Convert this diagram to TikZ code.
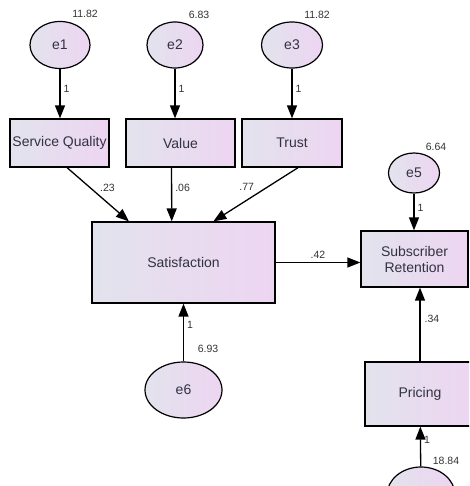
\documentclass[tikz,border=0pt]{standalone}
\usepackage{fontspec}
\setmainfont{Liberation Sans}
\usetikzlibrary{arrows.meta,shapes.geometric}

\definecolor{fillL}{RGB}{226,227,237}
\definecolor{fillR}{RGB}{237,213,242}
\definecolor{txt}{RGB}{50,50,64}

\tikzset{
  obs/.style={draw=black, line width=1.2pt, rectangle, inner sep=0pt, left color=fillL, right color=fillR, text=txt, font=\fontsize{14}{16}\selectfont},
  err/.style={draw=black, line width=1.2pt, ellipse, inner sep=0pt, left color=fillL, right color=fillR, text=txt, font=\fontsize{14}{16}\selectfont},
  reg/.style={line width=1.3pt, -{Triangle[length=13pt,width=10pt]}},
  coef/.style={font=\fontsize{10.5}{12}\selectfont, text=black!80, inner sep=1pt},
  var/.style={font=\fontsize{10.5}{12}\selectfont, text=black!80, inner sep=0pt}
}

\begin{document}
\begin{tikzpicture}[x=1pt,y=-1pt]
  \clip (0,0) rectangle (469,486);

  % error terms
  \node[err, minimum width=60pt, minimum height=47pt] (e1) at (60,45) {e1};
  \node[err, minimum width=56pt, minimum height=46pt] (e2) at (175,45) {e2};
  \node[err, minimum width=61pt, minimum height=46pt] (e3) at (292,45) {e3};
  \node[err, minimum width=51pt, minimum height=40pt] (e5) at (414,173) {e5};
  \node[err, minimum width=77pt, minimum height=56pt] (e6) at (183.5,390) {e6};
  \node[err, minimum width=68pt, minimum height=56pt] (e4) at (421,495) {};

  % variances
  \node[var] (v1) at (85,14) {11.82};
  \node[var] (v2) at (199,15) {6.83};
  \node[var] (v3) at (317,15) {11.82};
  \node[var] (v5) at (436,147) {6.64};
  \node[var] (v6) at (208,349) {6.93};
  \node[var] (v4) at (446,461) {18.84};

  % observed variables
  \node[obs, minimum width=99pt, minimum height=48pt] (sq) at (59.5,143) {Service Quality};
  \node[obs, minimum width=109pt, minimum height=48pt] (val) at (180.5,143) {Value};
  \node[obs, minimum width=100pt, minimum height=48pt] (trust) at (292,143) {Trust};
  \node[obs, minimum width=183pt, minimum height=81pt] (sat) at (183.5,262.5) {Satisfaction};
  \node[obs, minimum width=107pt, minimum height=56pt, align=center] (sr) at (414.5,259) {Subscriber\\Retention};
  \node[obs, minimum width=110pt, minimum height=64pt] (pr) at (420,394) {Pricing};

  % paths
  \draw[reg] (e1) -- node[coef, pos=.4, right=2pt] {1} (e1 |- sq.north);
  \draw[reg] (e2) -- node[coef, pos=.4, right=2pt] {1} (e2 |- val.north);
  \draw[reg] (e3) -- node[coef, pos=.4, right=2pt] {1} (e3 |- trust.north);
  \draw[reg] (sq.-73) -- node[coef, pos=.38, right=8pt] {.23} (sat.143);
  \draw[reg] (val.-110) -- node[coef, pos=.38, right=2pt] {.06} (sat.106);
  \draw[reg] (trust.-76) -- node[coef, pos=.36, left=12pt] {.77} (sat.54);
  \draw[reg] (sat) -- node[coef, pos=.5, above=2pt] {.42} (sat -| sr.west);
  \draw[reg] (e5) -- node[coef, pos=.4, right=2pt] {1} (e5 |- sr.north);
  \draw[reg] (e6) -- node[coef, pos=.64, right=2pt] {1} (sat);
  \draw[reg] (pr.north) -- node[coef, pos=.57, right=3pt] {.34} (pr.north |- sr.south);
  \draw[reg] (e4) -- node[coef, pos=.66, right=2pt] {1} (pr);
\end{tikzpicture}
\end{document}
